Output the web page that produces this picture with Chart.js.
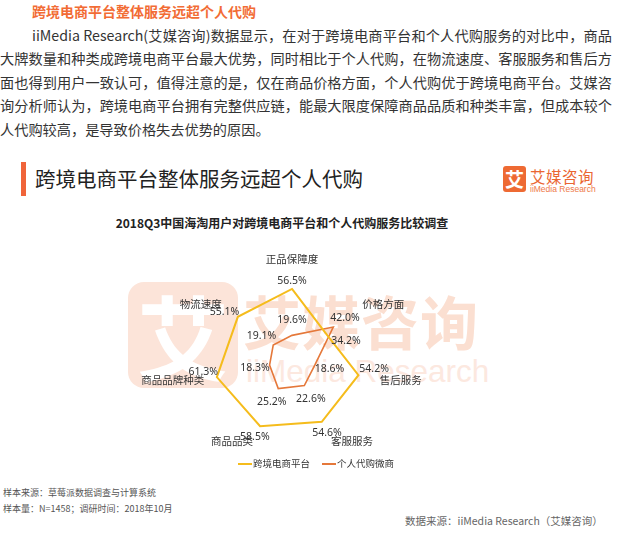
<!DOCTYPE html>
<html>
<head>
<meta charset="utf-8">
<script src="https://cdn.jsdelivr.net/npm/chart.js@4"></script>
<style>
  body { margin: 0; background: #fff; font-family: "Noto Sans CJK SC", "Noto Sans", sans-serif; color: #333; }
  .page { position: relative; width: 621px; height: 536px; overflow: hidden; }
  .abs { position: absolute; white-space: nowrap; }
  .topTitle { left: 32px; top: 2px; font-size: 14px; font-weight: bold; color: #f26c35; line-height: 18px; }
  .para { left: 0; top: 24px; width: 612px; font-size: 14.2px; line-height: 23.4px; color: #333; }
  .para div { text-align: justify; text-align-last: justify; white-space: nowrap; }
  .para div.last { text-align-last: left; }
  .bar { left: 21px; top: 162px; width: 5px; height: 34px; background: #f0643a; }
  .header { left: 35px; top: 164px; font-size: 20.5px; line-height: 28px; color: #222; }
  .logoBox { left: 503px; top: 166px; width: 23px; height: 26px; background: #ee6a33; border-radius: 3px; color: #fff; font-size: 19px; font-weight: bold; line-height: 26px; text-align: center; }
  .logoCn { left: 530px; top: 167px; font-size: 15.5px; line-height: 18px; color: #ea6632; letter-spacing: 0.5px; }
  .logoEn { left: 530px; top: 184px; font-size: 8.5px; line-height: 10px; color: #ee7a4a; font-family: "Liberation Sans", sans-serif; }
  .chartTitle { left: 0; width: 564px; top: 215px; text-align: center; font-size: 12px; font-weight: bold; color: #222; line-height: 16px; }
  .wmBox { left: 128px; top: 282px; width: 110px; height: 106px; background: #fce4d9; border-radius: 16px; color: #fff; font-size: 92px; font-weight: bold; line-height: 104px; text-align: center; }
  .wmCn { left: 243px; top: 285px; font-size: 58px; line-height: 70px; color: #fbdfd1; font-weight: bold; letter-spacing: 1px; }
  .wmEn { left: 246px; top: 353px; font-size: 31.5px; line-height: 36px; color: #fce8df; font-family: "Liberation Sans", sans-serif; }
  #wrap { position: absolute; left: 112px; top: 240px; width: 360px; height: 240px; }
  .legend { left: 0; width: 632px; top: 456px; text-align: center; font-size: 9.5px; line-height: 14px; color: #333; }
  .legend span.item { margin: 0 6px; }
  .legend span.sw { display: inline-block; width: 14px; height: 2px; vertical-align: middle; margin-right: 1px; }
  .note { left: 3px; font-size: 9px; color: #555; line-height: 12px; }
  .source { left: 405px; top: 514px; font-size: 10.5px; color: #666; line-height: 14px; }
</style>
</head>
<body>
<div class="page">
  <div class="abs topTitle">跨境电商平台整体服务远超个人代购</div>
  <div class="abs para">
    <div style="margin-left:32px">iiMedia Research(艾媒咨询)数据显示，在对于跨境电商平台和个人代购服务的对比中，商品</div>
    <div>大牌数量和种类成跨境电商平台最大优势，同时相比于个人代购，在物流速度、客服服务和售后方</div>
    <div>面也得到用户一致认可，值得注意的是，仅在商品价格方面，个人代购优于跨境电商平台。艾媒咨</div>
    <div>询分析师认为，跨境电商平台拥有完整供应链，能最大限度保障商品品质和种类丰富，但成本较个</div>
    <div class="last">人代购较高，是导致价格失去优势的原因。</div>
  </div>

  <div class="abs bar"></div>
  <div class="abs header">跨境电商平台整体服务远超个人代购</div>
  <div class="abs logoBox">艾</div>
  <div class="abs logoCn">艾媒咨询</div>
  <div class="abs logoEn">iiMedia Research</div>

  <div class="abs chartTitle">2018Q3中国海淘用户对跨境电商平台和个人代购服务比较调查</div>

  <div class="abs wmBox">艾</div>
  <div class="abs wmCn">艾媒咨询</div>
  <div class="abs wmEn">iiMedia Research</div>

  <div id="wrap"><canvas id="c" width="360" height="240"></canvas></div>

  <div class="abs legend" id="legend"></div>

  <div class="abs note" style="top:487px">样本来源：草莓派数据调查与计算系统</div>
  <div class="abs note" style="top:503px">样本量：N=1458；调研时间：2018年10月</div>
  <div class="abs source">数据来源：iiMedia Research（艾媒咨询）</div>
</div>

<script>
// 数据
const categories = ['正品保障度', '价格方面', '售后服务', '客服服务', '商品品类', '商品品牌种类', '物流速度'];
const seriesNames = ['跨境电商平台', '个人代购微商'];
const platformValues = [56.5, 34.2, 54.2, 54.6, 58.5, 61.3, 55.1];
const daigouValues = [19.6, 42.0, 18.6, 22.6, 25.2, 18.3, 19.1];

const colors = ['#f5bc1c', '#e5783a'];

// small label nudges so overlapping labels stay readable
const labelStyle = [
  { gap: 12, nudge: { 0: [0, 4], 1: [11, 15], 2: [4, -9], 5: [-2, -8], 6: [-4, 3] } },
  { gap: 15, nudge: {} }
];

const labelPlugin = {
  id: 'radarLabels',
  afterDatasetsDraw(chart) {
    const ctx = chart.ctx;
    const r = chart.scales.r;
    ctx.save();
    ctx.textBaseline = 'middle';
    ctx.fillStyle = '#333';

    // category names, aligned away from the centre
    ctx.font = '10.5px "Noto Sans CJK SC"';
    categories.forEach((name, i) => {
      const p = r.getPointPosition(i, 90);
      const c = Math.cos(p.angle);
      let y = p.y;
      if (Math.abs(c) < 0.1) {
        ctx.textAlign = 'center';
        y += Math.sin(p.angle) * 11;
      } else {
        ctx.textAlign = c > 0 ? 'left' : 'right';
      }
      ctx.fillText(name, p.x, y);
    });

    // values
    ctx.textAlign = 'center';
    ctx.font = '10.5px "Noto Sans", "Noto Sans CJK SC"';
    chart.data.datasets.forEach((ds, di) => {
      const st = labelStyle[di];
      ds.data.forEach((v, i) => {
        const d = r.getDistanceFromCenterForValue(v) + st.gap;
        const p = r.getPointPosition(i, d);
        const n = st.nudge[i] || [0, 0];
        ctx.fillText(v.toFixed(1) + '%', p.x + n[0], p.y + n[1]);
      });
    });
    ctx.restore();
  }
};

const chart = new Chart(document.getElementById('c').getContext('2d'), {
  type: 'radar',
  data: {
    labels: categories,
    datasets: [
      { label: seriesNames[0], data: platformValues, borderColor: colors[0], borderWidth: 2, pointRadius: 0, fill: false, tension: 0 },
      { label: seriesNames[1], data: daigouValues, borderColor: colors[1], borderWidth: 1.6, pointRadius: 0, fill: false, tension: 0 }
    ]
  },
  options: {
    responsive: false,
    animation: false,
    layout: { padding: { left: 92, right: 92, top: 32, bottom: 32 } },
    plugins: { legend: { display: false }, tooltip: { enabled: false } },
    scales: {
      r: {
        min: 0,
        max: 70,
        ticks: { display: false },
        grid: { display: false },
        angleLines: { display: false },
        pointLabels: { display: false }
      }
    }
  },
  plugins: [labelPlugin]
});

// 图例
document.getElementById('legend').innerHTML = seriesNames.map((n, i) =>
  `<span class="item"><span class="sw" style="background:${colors[i]}"></span>${n}</span>`
).join('');
</script>
</body>
</html>
